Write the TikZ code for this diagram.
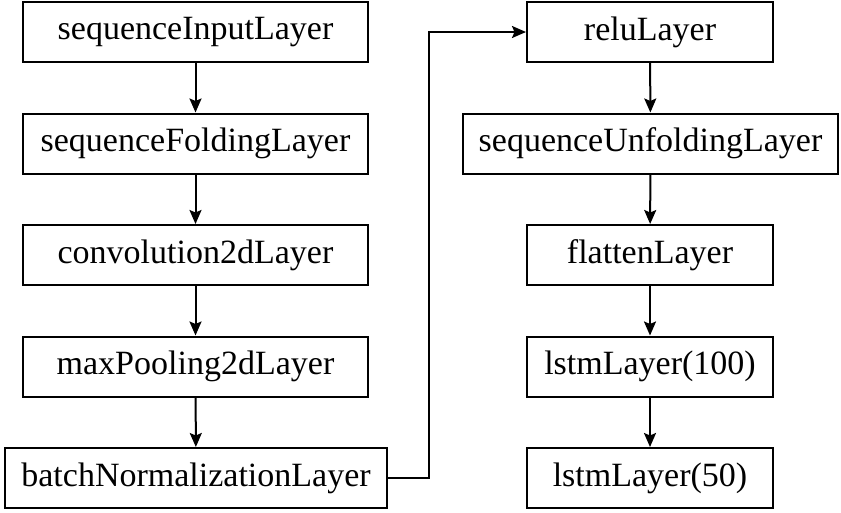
\documentclass[tikz,border=0pt]{standalone}
\usepackage{fontspec}
\setmainfont{Liberation Serif}
\usetikzlibrary{arrows.meta}
\begin{document}
\begin{tikzpicture}[x=1pt,y=-1pt,
  layer/.style={draw=black, line width=2pt, minimum height=60pt, inner sep=0pt, font=\fontsize{34}{38}\selectfont},
  conn/.style={line width=2pt, -{Stealth[length=14pt,width=12pt,inset=2.5pt]}}]
\useasboundingbox (0,0) rectangle (841,512);
\node[layer, minimum width=345pt] (a1) at (195.5,32) {sequenceInputLayer};
\node[layer, minimum width=345pt] (a2) at (195.5,143.5) {sequenceFoldingLayer};
\node[layer, minimum width=345pt] (a3) at (195.5,255) {convolution2dLayer};
\node[layer, minimum width=345pt] (a4) at (195.5,366.5) {maxPooling2dLayer};
\node[layer, minimum width=382pt] (a5) at (196,478) {batchNormalizationLayer};
\node[layer, minimum width=246pt] (b1) at (650,32) {reluLayer};
\node[layer, minimum width=375pt] (b2) at (650.5,143.5) {sequenceUnfoldingLayer};
\node[layer, minimum width=246pt] (b3) at (650,255) {flattenLayer};
\node[layer, minimum width=246pt] (b4) at (650,366.5) {lstmLayer(100)};
\node[layer, minimum width=246pt] (b5) at (650,478) {lstmLayer(50)};
\draw[conn] (a1) -- (a2);
\draw[conn] (a2) -- (a3);
\draw[conn] (a3) -- (a4);
\draw[conn] (a4) -- (a5);
\draw[conn] (b1) -- (b2);
\draw[conn] (b2) -- (b3);
\draw[conn] (b3) -- (b4);
\draw[conn] (b4) -- (b5);
\coordinate (t) at (429,0);
\draw[conn] (a5.east) -- (a5.east -| t) -- (b1.west -| t) -- (b1.west);
\end{tikzpicture}
\end{document}
